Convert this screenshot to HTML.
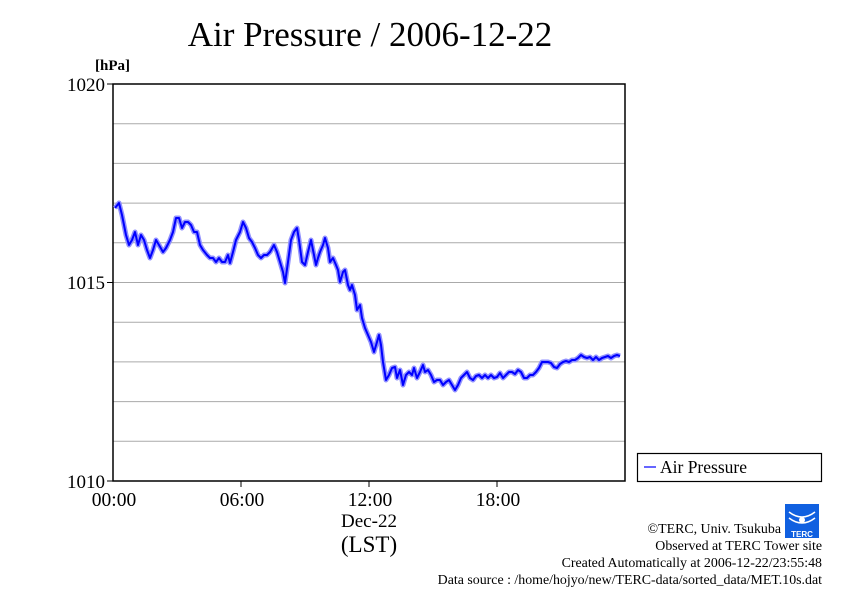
<!DOCTYPE html>
<html><head><meta charset="utf-8"><style>
body{margin:0;background:#fff;width:842px;height:595px;overflow:hidden}
</style></head><body>
<svg width="842" height="595" xmlns="http://www.w3.org/2000/svg" font-family="Liberation Serif, serif">
<rect width="842" height="595" fill="#fff"/>
<text x="370" y="46" font-size="35" text-anchor="middle">Air Pressure / 2006-12-22</text>
<text x="95" y="70" font-size="15" font-weight="bold">[hPa]</text>
<g stroke="#aaa" stroke-width="1">
<line x1="113" x2="625" y1="123.7" y2="123.7"/><line x1="113" x2="625" y1="163.4" y2="163.4"/>
<line x1="113" x2="625" y1="203.1" y2="203.1"/><line x1="113" x2="625" y1="242.8" y2="242.8"/>
<line x1="113" x2="625" y1="282.5" y2="282.5"/><line x1="113" x2="625" y1="322.2" y2="322.2"/>
<line x1="113" x2="625" y1="361.9" y2="361.9"/><line x1="113" x2="625" y1="401.6" y2="401.6"/>
<line x1="113" x2="625" y1="441.3" y2="441.3"/>
</g>
<rect x="113" y="84" width="512" height="397" fill="none" stroke="#000" stroke-width="1.5"/>
<g stroke="#000" stroke-width="1">
<line x1="107" x2="113" y1="84" y2="84"/><line x1="107" x2="113" y1="282.5" y2="282.5"/><line x1="107" x2="113" y1="481" y2="481"/>
<line x1="241" x2="241" y1="481" y2="487"/><line x1="369" x2="369" y1="481" y2="487"/><line x1="497" x2="497" y1="481" y2="487"/>
</g>
<g font-size="19" text-anchor="end">
<text x="105" y="91">1020</text><text x="105" y="289">1015</text><text x="105" y="488">1010</text>
</g>
<g font-size="19.5" text-anchor="middle">
<text x="114" y="506">00:00</text><text x="242" y="506">06:00</text><text x="370" y="506">12:00</text><text x="498" y="506">18:00</text>
<text x="369" y="527" font-size="19">Dec-22</text>
<text x="369" y="552" font-size="23">(LST)</text>
</g>
<g fill="none" stroke-linejoin="round">
<polyline stroke="#9090ff" stroke-width="5" points="115,208 119,203 122,215 126,235 129,245 132,240 135,232 138,245 141,235 144,240 147,250 150,258 153,250 156,240 159,245 163,252 166,248 170,240 173,232 176,218 179,218 182,228 185,222 188,222 191,225 194,232 197,232 200,245 203,250 207,255 210,258 213,258 216,262 219,258 222,262 225,262 228,255 230,263 233,252 236,240 240,232 243,222 246,228 249,238 252,242 255,248 258,255 261,258 264,255 267,255 270,252 274,245 277,252 280,262 283,272 285,283 288,262 291,240 294,232 297,228 299,240 302,262 305,265 308,252 311,240 313,250 316,265 318,258 320,252 323,245 325,238 328,248 330,262 333,258 336,265 338,270 340,282 343,272 345,270 348,285 350,290 352,285 355,295 357,310 360,305 362,318 365,328 368,335 371,342 374,352 377,342 379,335 381,345 383,362 386,380 389,375 392,368 395,367 397,378 400,370 403,385 406,375 409,372 412,375 414,368 417,378 420,372 423,365 425,372 428,370 431,375 434,382 437,380 440,380 443,385 446,382 449,380 452,385 455,390 458,385 461,378 464,375 467,372 470,378 473,380 476,376 479,375 482,378 485,375 488,378 491,375 494,378 497,377 500,373 503,378 506,375 509,372 512,372 515,374 518,370 521,372 524,378 527,378 530,375 533,375 536,372 539,368 542,362 545,362 548,362 551,363 554,367 557,368 560,364 563,362 566,361 569,362 572,360 575,360 578,358 581,355 584,357 587,358 590,357 593,360 596,357 599,360 602,358 605,357 608,356 611,358 614,356 617,355 620,356"/>
<polyline stroke="#0000ff" stroke-width="2" points="115,208 119,203 122,215 126,235 129,245 132,240 135,232 138,245 141,235 144,240 147,250 150,258 153,250 156,240 159,245 163,252 166,248 170,240 173,232 176,218 179,218 182,228 185,222 188,222 191,225 194,232 197,232 200,245 203,250 207,255 210,258 213,258 216,262 219,258 222,262 225,262 228,255 230,263 233,252 236,240 240,232 243,222 246,228 249,238 252,242 255,248 258,255 261,258 264,255 267,255 270,252 274,245 277,252 280,262 283,272 285,283 288,262 291,240 294,232 297,228 299,240 302,262 305,265 308,252 311,240 313,250 316,265 318,258 320,252 323,245 325,238 328,248 330,262 333,258 336,265 338,270 340,282 343,272 345,270 348,285 350,290 352,285 355,295 357,310 360,305 362,318 365,328 368,335 371,342 374,352 377,342 379,335 381,345 383,362 386,380 389,375 392,368 395,367 397,378 400,370 403,385 406,375 409,372 412,375 414,368 417,378 420,372 423,365 425,372 428,370 431,375 434,382 437,380 440,380 443,385 446,382 449,380 452,385 455,390 458,385 461,378 464,375 467,372 470,378 473,380 476,376 479,375 482,378 485,375 488,378 491,375 494,378 497,377 500,373 503,378 506,375 509,372 512,372 515,374 518,370 521,372 524,378 527,378 530,375 533,375 536,372 539,368 542,362 545,362 548,362 551,363 554,367 557,368 560,364 563,362 566,361 569,362 572,360 575,360 578,358 581,355 584,357 587,358 590,357 593,360 596,357 599,360 602,358 605,357 608,356 611,358 614,356 617,355 620,356"/>
</g>
<rect x="637.5" y="453.5" width="184" height="28" fill="#fff" stroke="#000" stroke-width="1.2"/>
<line x1="644" x2="656" y1="467" y2="467" stroke="#33f" stroke-width="1.5"/>
<text x="660" y="473" font-size="17.5">Air Pressure</text>
<rect x="785" y="504" width="34" height="34" fill="#1060e0"/>
<path d="M789 512 q13 10 26 0 M789 518 q13 10 26 0" stroke="#fff" stroke-width="1.5" fill="none"/>
<circle cx="802" cy="520" r="3" fill="#fff"/>
<text x="802" y="537" font-size="8" fill="#fff" text-anchor="middle" font-family="Liberation Sans, sans-serif" font-weight="bold">TERC</text>
<g font-size="13.9" text-anchor="end">
<text x="781" y="533">©TERC, Univ. Tsukuba</text>
<text x="822" y="550">Observed at TERC Tower site</text>
<text x="822" y="567">Created Automatically at 2006-12-22/23:55:48</text>
<text x="822" y="584">Data source : /home/hojyo/new/TERC-data/sorted_data/MET.10s.dat</text>
</g>
</svg>
</body></html>
